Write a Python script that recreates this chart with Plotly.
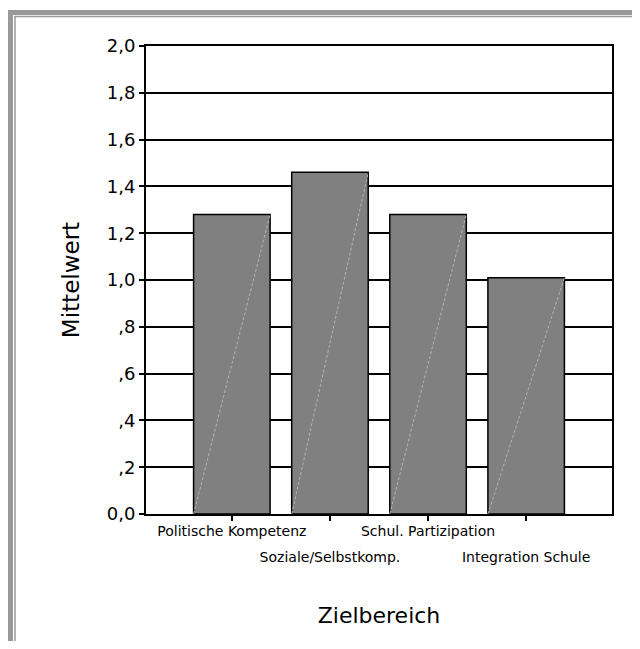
import plotly.graph_objects as go

# ---- data ----
categories = ["Politische Kompetenz", "Soziale/Selbstkomp.", "Schul. Partizipation", "Integration Schule"]
means = [1.28, 1.46, 1.28, 1.01]
y_tick_values = [0.0, 0.2, 0.4, 0.6, 0.8, 1.0, 1.2, 1.4, 1.6, 1.8, 2.0]
y_tick_labels = ["0,0", ",2", ",4", ",6", ",8", "1,0", "1,2", "1,4", "1,6", "1,8", "2,0"]
x_title = "Zielbereich"
y_title = "Mittelwert"

# ---- geometry (page has an 8px body margin on every side) ----
OFF = 8
W, H = 640 - 2 * OFF, 649 - 2 * OFF
L, T = 146 - OFF, 46 - OFF
R = (640 - 612) - OFF
B = (649 - 514) - OFF
pw = W - L - R
ph = H - T - B


def px(x_page):
    return (x_page - OFF - L) / pw


def py(y_page):
    return (H - B - (y_page - OFF)) / ph


FONT = "DejaVu Sans"
bar_width = 0.78
idx = list(range(len(categories)))
row1 = [c if i % 2 == 0 else "" for i, c in enumerate(categories)]
row2 = [c if i % 2 == 1 else "" for i, c in enumerate(categories)]

fig = go.Figure()
fig.add_trace(go.Bar(
    x=idx, y=means, width=bar_width,
    marker=dict(color="#808080", line=dict(color="black", width=1.5)),
    hoverinfo="skip", showlegend=False,
))
for i, v in zip(idx, means):
    fig.add_trace(go.Scatter(
        x=[i - bar_width / 2, i + bar_width / 2], y=[0, v], mode="lines",
        line=dict(color="#b4b4b4", width=1, dash="3px,2px"),
        xaxis="x2", yaxis="y", showlegend=False, hoverinfo="skip",
    ))

xr = [-0.875, len(categories) - 0.125]

fig.update_layout(
    width=W, height=H,
    margin=dict(l=L, r=R, t=T, b=B, pad=0),
    paper_bgcolor="white", plot_bgcolor="white",
    font=dict(family=FONT, color="black"),
    showlegend=False,
    xaxis=dict(
        range=xr, tickmode="array", tickvals=idx, ticktext=row1,
        ticks="outside", ticklen=5, tickwidth=1.5, tickcolor="black",
        showline=True, linewidth=2, linecolor="black", mirror=True,
        showgrid=False, zeroline=False,
        tickfont=dict(size=14, family=FONT, color="black"),
        ticklabelstandoff=-2,
        title=dict(text=x_title, font=dict(size=22, family=FONT, color="black"), standoff=70),
    ),
    xaxis2=dict(
        range=xr, overlaying="x", anchor="y", side="bottom",
        tickmode="array", tickvals=idx, ticktext=row2,
        ticks="", showline=False, showgrid=False, zeroline=False,
        tickfont=dict(size=14, family=FONT, color="black"),
        ticklabelstandoff=33,
    ),
    yaxis=dict(
        range=[0, 2.0], tickmode="array", tickvals=y_tick_values, ticktext=y_tick_labels,
        ticks="outside", ticklen=5, tickwidth=1.5, tickcolor="black",
        showline=True, linewidth=2, linecolor="black", mirror=True,
        showgrid=True, gridcolor="black", gridwidth=1.5, zeroline=False,
        tickfont=dict(size=18, family=FONT, color="black"),
        title=dict(text=y_title, font=dict(size=23, family=FONT, color="black"), standoff=21),
    ),
    shapes=[
        dict(type="rect", xref="paper", yref="paper",
             x0=px(10.5), x1=px(700), y0=py(700), y1=py(12.5),
             line=dict(color="#999999", width=5), fillcolor="rgba(0,0,0,0)"),
        dict(type="rect", xref="paper", yref="paper",
             x0=px(15), x1=px(700), y0=py(700), y1=py(16.5),
             line=dict(color="#999999", width=1.5), fillcolor="rgba(0,0,0,0)"),
    ],
)

fig.write_html("out.html")
